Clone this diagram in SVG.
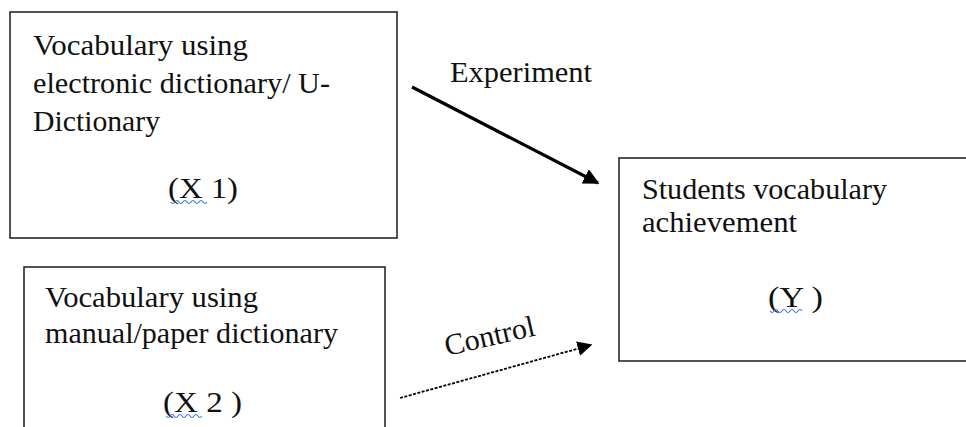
<svg xmlns="http://www.w3.org/2000/svg" width="966" height="427" viewBox="0 0 966 427">
<style>
.box{fill:#fff;stroke:#1a1a1a;stroke-width:1.5}
.t{font-family:"Liberation Serif","Times New Roman",serif;font-size:30px;fill:#111}
.sq{fill:none;stroke:#3b78e7;stroke-width:1.2}
</style>
<defs>
<marker id="ah2" viewBox="0 0 10 10" refX="9" refY="5" markerWidth="16" markerHeight="16" markerUnits="userSpaceOnUse" orient="auto">
<path d="M0,0 L10,5 L0,10 Z" fill="#000"/>
</marker>
<marker id="ah3" viewBox="0 0 10 10" refX="9" refY="5" markerWidth="15" markerHeight="15" markerUnits="userSpaceOnUse" orient="auto">
<path d="M0,0 L10,5 L0,10 Z" fill="#000"/>
</marker>
</defs>
<rect width="966" height="427" fill="#fff"/>
<g id="x1">
<rect class="box" x="10" y="12" width="387" height="226"/>
<text class="t" x="33" y="55" textLength="215" lengthAdjust="spacingAndGlyphs">Vocabulary using</text>
<text class="t" x="33" y="93" textLength="297" lengthAdjust="spacingAndGlyphs">electronic dictionary/ U-</text>
<text class="t" x="33" y="131" textLength="127" lengthAdjust="spacingAndGlyphs">Dictionary</text>
<text class="t" x="168" y="198" textLength="70" lengthAdjust="spacingAndGlyphs">(X 1)</text>
<path class="sq" d="M171,202 q2,3 4,0 t4,0 t4,0 t4,0 t4,0 t4,0 t4,0 t4,0 t4,0"/>
</g>
<g id="x2">
<rect class="box" x="24" y="267" width="361" height="175"/>
<text class="t" x="45" y="307" textLength="213" lengthAdjust="spacingAndGlyphs">Vocabulary using</text>
<text class="t" x="45" y="343" textLength="293" lengthAdjust="spacingAndGlyphs">manual/paper dictionary</text>
<text class="t" x="163" y="412" textLength="79" lengthAdjust="spacingAndGlyphs">(X 2 )</text>
<path class="sq" d="M166,416 q2,3 4,0 t4,0 t4,0 t4,0 t4,0 t4,0 t4,0 t4,0 t4,0"/>
</g>
<g id="y">
<rect class="box" x="619" y="158" width="360" height="203"/>
<text class="t" x="642" y="199" textLength="245" lengthAdjust="spacingAndGlyphs">Students vocabulary</text>
<text class="t" x="642" y="232" textLength="155" lengthAdjust="spacingAndGlyphs">achievement</text>
<text class="t" x="768" y="307" textLength="55" lengthAdjust="spacingAndGlyphs">(Y )</text>
<path class="sq" d="M770,311 q2,3 4,0 t4,0 t4,0 t4,0 t4,0 t4,0 t4,0 t4,0"/>
</g>
<g id="connectors">
<line x1="412" y1="87" x2="598" y2="183" stroke="#000" stroke-width="3.2" marker-end="url(#ah2)"/>
<text class="t" x="450" y="82" textLength="142" lengthAdjust="spacingAndGlyphs">Experiment</text>
<line x1="400" y1="398" x2="591" y2="345" stroke="#000" stroke-width="1.8" stroke-dasharray="3,1.5" marker-end="url(#ah3)"/>
<text class="t" x="447" y="356" transform="rotate(-13 447 356)" textLength="92" lengthAdjust="spacingAndGlyphs">Control</text>
</g>
</svg>
